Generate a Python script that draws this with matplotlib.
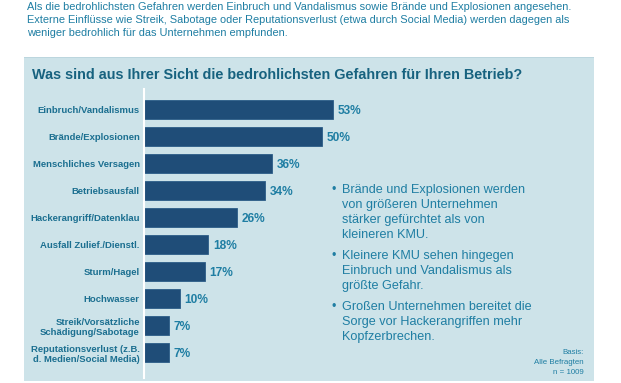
import matplotlib.pyplot as plt
from matplotlib.patches import Rectangle

plt.rcParams['font.family'] = ['Liberation Sans', 'DejaVu Sans']

# data
categories = ['Einbruch/Vandalismus', 'Brände/Explosionen', 'Menschliches Versagen',
              'Betriebsausfall', 'Hackerangriff/Datenklau', 'Ausfall Zulief./Dienstl.',
              'Sturm/Hagel', 'Hochwasser', 'Streik/Vorsätzliche\nSchädigung/Sabotage',
              'Reputationsverlust (z.B.\nd. Medien/Social Media)']
values = [53, 50, 36, 34, 26, 18, 17, 10, 7, 7]

intro_lines = [
    'Als die bedrohlichsten Gefahren werden Einbruch und Vandalismus sowie Brände und Explosionen angesehen.',
    'Externe Einflüsse wie Streik, Sabotage oder Reputationsverlust (etwa durch Social Media) werden dagegen als',
    'weniger bedrohlich für das Unternehmen empfunden.',
]
title = 'Was sind aus Ihrer Sicht die bedrohlichsten Gefahren für Ihren Betrieb?'
bullets = [
    ['Brände und Explosionen werden', 'von größeren Unternehmen',
     'stärker gefürchtet als von', 'kleineren KMU.'],
    ['Kleinere KMU sehen hingegen', 'Einbruch und Vandalismus als', 'größte Gefahr.'],
    ['Großen Unternehmen bereitet die', 'Sorge vor Hackerangriffen mehr', 'Kopfzerbrechen.'],
]
basis_lines = ['Basis:', 'Alle Befragten', 'n = 1009']

W, H = 621, 383
bar_color = '#1f4d78'
panel_color = '#cde3e9'
text_color = '#1f7ea3'
title_color = '#17627f'
label_color = '#1b6f90'


def fy(py):
    return 1 - py / H


fig = plt.figure(figsize=(W / 100, H / 100), dpi=100)
fig.patch.set_facecolor('white')

# light blue panel
fig.patches.append(Rectangle((24 / W, fy(381)), 570 / W, 324 / H,
                             transform=fig.transFigure, facecolor=panel_color,
                             edgecolor='none', zorder=0))
fig.patches.append(Rectangle((24 / W, fy(58)), 570 / W, 1.2 / H,
                             transform=fig.transFigure, facecolor='#bcd6de',
                             edgecolor='none', zorder=0))

# intro paragraph
for k, line in enumerate(intro_lines):
    fig.text(27 / W, fy(10 + 13 * k), line, fontsize=7.95, color=text_color,
             va='baseline', ha='left')

fig.text(32 / W, fy(79), title, fontsize=10.35, fontweight='bold',
         color=title_color, va='baseline', ha='left')

# bar chart
ax = fig.add_axes([144 / W, fy(378), 356 / W, 289 / H])
ax.set_zorder(3)
ax.set_facecolor('none')
y = list(range(len(categories)))
ax.barh(y, values, height=0.7, color=bar_color, edgecolor='#2c5d88', linewidth=0.6)
ax.set_xlim(0, 100)
ax.set_ylim(9.94, -0.76)
ax.set_yticks(y)
ax.set_yticklabels(categories, fontsize=6.8, fontweight='bold', color=label_color,
                   linespacing=1.15)
ax.tick_params(axis='y', length=0, pad=3)
ax.set_xticks([])
for s in ['top', 'right', 'bottom']:
    ax.spines[s].set_visible(False)
ax.spines['left'].set_color('white')
ax.spines['left'].set_linewidth(1.5)

for i, v in enumerate(values):
    ax.text(v + 1.4, i + 0.05, f'{v}%', fontsize=8.6, fontweight='bold',
            color=text_color, va='center', ha='left')

# bullet notes
py = 190
for group in bullets:
    fig.text(332 / W, fy(py), '•', fontsize=9, color=text_color, va='center', ha='left')
    for line in group:
        fig.text(342 / W, fy(py), line, fontsize=9.1, color=text_color,
                 va='center', ha='left')
        py += 15
    py += 6

for k, line in enumerate(basis_lines):
    fig.text(584 / W, fy(352 + 10 * k), line, fontsize=5.7, color=text_color,
             va='center', ha='right')

fig.savefig('out.png', dpi=100)
